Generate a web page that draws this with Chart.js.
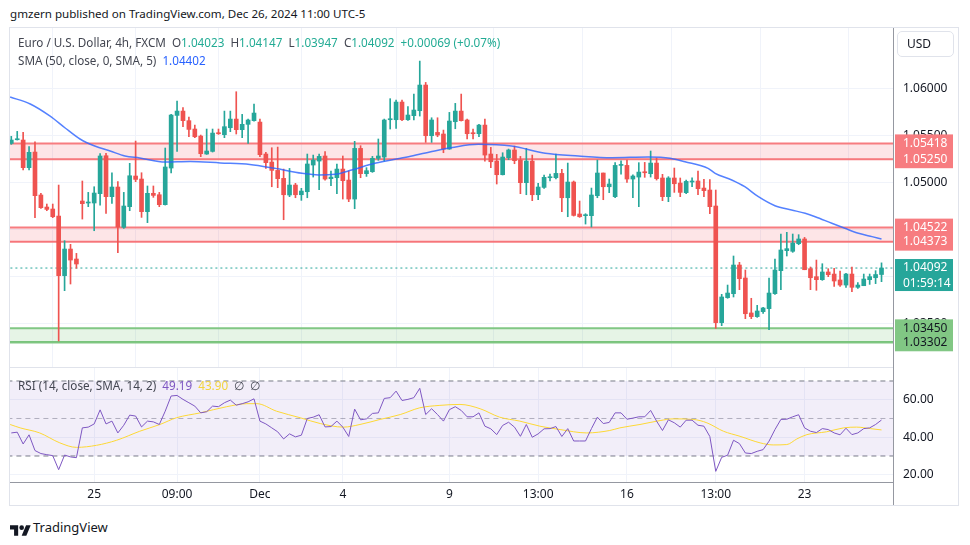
<!DOCTYPE html>
<html><head><meta charset="utf-8">
<script src="https://cdn.jsdelivr.net/npm/chart.js@4.4.1/dist/chart.umd.min.js"></script>
<style>
html,body{margin:0;padding:0;background:#fff;width:970px;height:545px;overflow:hidden;font-family:"Noto Sans",sans-serif;}
#frame{position:absolute;left:9px;top:27px;width:950px;height:479px;border:1px solid #e0e3eb;box-sizing:border-box;}
canvas{position:absolute;}
#c1{left:10px;top:28px;}
#c2{left:10px;top:368px;}
.t{position:absolute;white-space:nowrap;font-size:11.7px;color:#434651;line-height:16px;}
.vline{position:absolute;left:893px;top:28px;width:1px;height:477px;background:#9598a1;}
.sep{position:absolute;left:10px;top:367px;width:883px;height:1px;background:#e0e3eb;}
#usd{position:absolute;left:897px;top:31px;width:57px;height:26px;border:1px solid #e0e3eb;border-radius:5px;box-sizing:border-box;font-size:12px;color:#131722;line-height:24px;padding-left:9px;}
.g{color:#22ab94}
</style></head><body>
<div class="t" style="left:10px;top:6px;font-size:11.6px;color:#131722;">gmzern published on TradingView.com, Dec 26, 2024 11:00 UTC-5</div>
<div id="frame"></div>
<canvas id="c1" width="948" height="339"></canvas>
<canvas id="c2" width="948" height="137"></canvas>
<div class="sep"></div>
<div class="vline"></div>
<div id="usd">USD</div>
<div class="t" style="left:18px;top:34px;">Euro / U.S. Dollar, 4h, FXCM&nbsp; O<span class="g">1.04023</span>&nbsp; H<span class="g">1.04147</span>&nbsp; L<span class="g">1.03947</span>&nbsp; C<span class="g">1.04092</span>&nbsp; <span class="g">+0.00069 (+0.07%)</span></div>
<div class="t" style="left:18px;top:52px;">SMA (50, close, 0, SMA, 5)&nbsp; <span style="color:#2962ff">1.04402</span></div>
<div class="t" style="left:18px;top:377px;">RSI (14, close, SMA, 14, 2)&nbsp; <span style="color:#7e57c2">49.19</span>&nbsp; <span style="color:#f2d43d">43.90</span>&nbsp; ∅&nbsp; ∅</div>
<div style="position:absolute;left:10px;top:520px;">
<svg width="21" height="14" viewBox="0 0 36 24"><path d="M14 22H7V11H0V4h14v18z" fill="#131722"/><circle cx="20" cy="8" r="4" fill="#131722"/><path d="M28 22h-8l7.5-18h8L28 22z" fill="#131722"/></svg>
</div>
<div class="t" style="left:33px;top:519px;font-size:13px;color:#131722;">TradingView</div>
<script>
// ---------- data ----------
const OPEN = [1.05418,1.05457,1.05454,1.05160,1.05326,1.04869,1.04741,1.04720,1.04645,1.04011,1.04294,1.04188,
1.04805,1.04784,1.04784,1.04883,1.05287,1.04851,1.04954,1.04525,1.04745,1.05071,1.05039,1.04692,1.04887,1.04872,1.04766,1.05156,1.05716,1.05762,
1.05660,1.05571,1.05496,1.05305,1.05333,1.05532,1.05511,1.05585,1.05677,1.05564,1.05621,1.05660,1.05645,1.05305,1.05220,1.05131,1.05046,1.04869,
1.04975,1.04872,1.04904,1.05188,1.05230,1.05284,1.05043,1.05053,1.05145,1.05028,1.04826,1.05365,1.05096,1.05117,1.05259,1.05273,1.05670,1.05670,
1.05858,1.05670,1.05713,1.05766,1.06039,1.05500,1.05535,1.05518,1.05358,1.05649,1.05762,1.05667,1.05528,1.05521,1.05613,1.05305,1.05230,1.05085,
1.05266,1.05348,1.05241,1.05000,1.05230,1.04872,1.04950,1.05053,1.05053,1.05099,1.04840,1.05007,1.04667,1.04649,1.04649,1.04862,1.05103,1.04957,
1.04851,1.05184,1.05184,1.05039,1.05060,1.05113,1.05096,1.05209,1.05050,1.04851,1.05050,1.04996,1.04894,1.05007,1.05018,1.04943,1.04922,1.04752,
1.03511,1.03777,1.03819,1.04124,1.03986,1.03614,1.03575,1.03628,1.03660,1.03819,1.04064,1.04277,1.04270,1.04351,1.04401,1.04085,1.04000,1.03968,
1.04050,1.04028,1.03965,1.03911,1.04028,1.03887,1.03904,1.03968,1.03989,1.04023];
const HIGH = [1.05493,1.05546,1.05535,1.05383,1.05436,1.04887,1.04773,1.04773,1.04975,1.04383,1.04344,1.04248,
1.05018,1.04897,1.04957,1.05309,1.05312,1.05106,1.05011,1.04897,1.05206,1.05443,1.05106,1.04965,1.04965,1.04897,1.05369,1.05727,1.05869,1.05798,
1.05699,1.05613,1.05507,1.05571,1.05571,1.05571,1.05762,1.05762,1.05968,1.05727,1.05677,1.05837,1.05677,1.05323,1.05372,1.05379,1.05145,1.05152,
1.04993,1.04940,1.05305,1.05294,1.05305,1.05330,1.05124,1.05199,1.05284,1.05124,1.05440,1.05394,1.05160,1.05280,1.05465,1.05677,1.05894,1.05879,
1.05879,1.05809,1.05943,1.06294,1.06067,1.05691,1.05691,1.05560,1.05748,1.05844,1.05943,1.05677,1.05571,1.05620,1.05677,1.05376,1.05301,1.05319,
1.05358,1.05390,1.05280,1.05365,1.05294,1.04993,1.05082,1.05092,1.05305,1.05142,1.05209,1.05018,1.04805,1.04670,1.04943,1.05241,1.05103,1.05039,
1.05213,1.05234,1.05241,1.05085,1.05213,1.05216,1.05337,1.05262,1.05089,1.05064,1.05156,1.05050,1.05028,1.05053,1.05124,1.05035,1.05032,1.04922,
1.03812,1.03911,1.04220,1.04153,1.04071,1.03770,1.03695,1.03674,1.03986,1.04188,1.04454,1.04472,1.04454,1.04447,1.04418,1.04103,1.04177,1.04138,
1.04085,1.04089,1.04060,1.04035,1.04103,1.03936,1.04028,1.04028,1.04064,1.04147];
const LOW = [1.05408,1.05454,1.05135,1.05135,1.04628,1.04727,1.04702,1.04628,1.03316,1.03851,1.03922,1.04089,
1.04613,1.04745,1.04489,1.04762,1.04674,1.04780,1.04255,1.04514,1.04702,1.05011,1.04631,1.04575,1.04844,1.04745,1.04762,1.05103,1.05333,1.05596,
1.05489,1.05479,1.05277,1.05301,1.05326,1.05514,1.05479,1.05543,1.05518,1.05479,1.05418,1.05655,1.05277,1.05152,1.04957,1.04947,1.04606,1.04851,
1.04840,1.04812,1.04840,1.05060,1.04926,1.05028,1.04968,1.04883,1.04826,1.04798,1.04723,1.05053,1.05067,1.05110,1.05238,1.05230,1.05571,1.05578,
1.05660,1.05663,1.05667,1.05709,1.05429,1.05429,1.05489,1.05319,1.05355,1.05574,1.05656,1.05465,1.05465,1.05489,1.05230,1.05160,1.04986,1.05082,
1.05245,1.05202,1.04883,1.04872,1.04809,1.04819,1.04940,1.05018,1.05039,1.04692,1.04638,1.04645,1.04631,1.04560,1.04528,1.04840,1.04819,1.04894,
1.04840,1.05092,1.05004,1.04840,1.04745,1.05057,1.05060,1.05028,1.04809,1.04798,1.04897,1.04851,1.04883,1.04957,1.04872,1.04851,1.04670,1.03450,
1.03479,1.03770,1.03784,1.03862,1.03553,1.03553,1.03567,1.03610,1.03436,1.03812,1.03862,1.04220,1.04259,1.04340,1.04074,1.03862,1.03855,1.03961,
1.04000,1.03897,1.03897,1.03887,1.03840,1.03876,1.03904,1.03918,1.03926,1.03947];
const CLOSE = [1.05454,1.05465,1.05160,1.05323,1.04862,1.04734,1.04716,1.04638,1.04011,1.04294,1.04177,1.04135,
1.04777,1.04794,1.04890,1.05284,1.04851,1.04954,1.04528,1.04752,1.05074,1.05035,1.04692,1.04887,1.04865,1.04766,1.05167,1.05720,1.05762,1.05660,
1.05567,1.05489,1.05309,1.05337,1.05528,1.05521,1.05596,1.05677,1.05564,1.05621,1.05667,1.05741,1.05298,1.05213,1.05131,1.05043,1.04872,1.04975,
1.04872,1.04911,1.05199,1.05241,1.05280,1.05039,1.05060,1.05145,1.05021,1.04826,1.05365,1.05096,1.05128,1.05259,1.05284,1.05667,1.05677,1.05858,
1.05670,1.05720,1.05773,1.06039,1.05500,1.05667,1.05507,1.05358,1.05656,1.05762,1.05660,1.05521,1.05521,1.05613,1.05294,1.05223,1.05085,1.05273,
1.05348,1.05234,1.05000,1.05230,1.04872,1.04954,1.05057,1.05060,1.05099,1.04840,1.05007,1.04652,1.04638,1.04656,1.04869,1.05103,1.04957,1.04986,
1.05184,1.05191,1.05039,1.05071,1.05113,1.05106,1.05209,1.05043,1.04851,1.05050,1.04989,1.04897,1.05014,1.05018,1.04936,1.04915,1.04745,1.03511,
1.03784,1.03826,1.04124,1.03979,1.03606,1.03575,1.03635,1.03667,1.03826,1.04071,1.04284,1.04298,1.04358,1.04401,1.04074,1.03989,1.03968,1.04050,
1.04021,1.03954,1.03911,1.04028,1.03887,1.03911,1.03975,1.04000,1.04023,1.04092];

const SMA_X = [-0.2,3.2,6.5,9.1,11.6,14.1,16.7,19.2,21.7,26.0,30.2,35.3,40.3,44.5,49.1,51.9,54.7,57.5,61.4,67.1,70.7,74.5,78.9,84.5,90.2,95.8,101.4,107.6,111.3,113.8,117.7,118.9,121.7,123.9,126.2,129.0,131.8,134.1,135.8,138.6,140.8,143.1,145.4,147.0];
const SMA_Y = [1.05912,1.05837,1.05710,1.05582,1.05465,1.05390,1.05337,1.05284,1.05263,1.05220,1.05226,1.05210,1.05194,1.05153,1.05100,1.05082,1.05089,1.05135,1.05206,1.05277,1.05327,1.05375,1.05409,1.05390,1.05313,1.05284,1.05266,1.05273,1.05260,1.05223,1.05153,1.05100,1.05029,1.04957,1.04851,1.04755,1.04710,1.04674,1.04638,1.04568,1.04515,1.04462,1.04426,1.04402];

const RSI = [42.3,42.7,36.4,41.3,32.9,31.3,30.7,30.2,22.7,30.5,29.5,29.1,45.0,45.4,47.1,54.6,47.1,48.6,42.3,46.4,
51.8,51.3,45.5,48.6,48.2,46.8,53.9,62.0,62.3,60.2,58.4,56.6,53.0,53.6,56.6,56.3,58.4,59.8,57.1,57.9,
58.9,60.5,48.6,47.1,45.0,42.9,39.1,41.8,40.2,41.1,50.0,50.7,52.0,45.5,45.7,48.6,45.4,40.4,55.0,49.3,
49.8,52.7,53.0,60.7,61.1,64.6,59.6,60.2,61.1,66.1,52.1,55.2,52.1,48.6,54.7,56.3,54.3,50.9,50.9,53.0,
45.9,44.5,41.4,46.3,48.0,45.4,40.5,46.8,40.0,41.8,44.5,44.6,45.7,40.4,44.6,38.0,38.0,38.0,44.6,50.7,
47.3,47.9,53.0,53.0,49.6,50.2,50.9,50.9,54.3,48.6,43.6,49.3,47.7,45.4,49.1,49.1,46.4,45.9,40.4,21.8,
29.3,30.4,38.4,36.6,31.6,31.3,32.5,33.4,37.9,44.1,49.5,49.6,50.9,52.0,45.0,43.2,42.5,44.6,44.1,42.3,
41.3,44.8,41.4,42.3,44.6,45.0,46.8,49.19];
const RSI_MA_X = [-0.2,1.5,4.8,8.2,11.0,14.4,17.8,21.7,25.1,27.9,31.9,36.4,39.8,41.5,44.8,48.8,52.2,56.1,58.9,62.3,65.7,69.0,72.4,75.8,79.2,82.5,85.9,89.3,92.7,97.2,101.1,102.8,106.2,109.6,111.8,115.2,117.5,120.3,123.1,126.5,128.7,131.0,132.7,134.4,137.7,140.6,142.8,145.1,147.0];
const RSI_MA_Y = [46.8,45.0,42.3,37.0,34.6,35.7,38.4,43.2,46.8,50.4,53.0,56.3,57.9,57.9,53.9,50.4,47.3,45.4,46.8,49.5,52.1,55.7,57.0,57.5,55.2,50.7,48.6,45.9,44.1,42.3,43.6,45.0,46.8,48.9,49.8,49.5,47.7,43.2,40.5,37.0,35.9,36.1,39.1,41.4,42.9,45.0,45.4,44.6,43.9];

const TIME_TICK_IDX = [14,28,42,56,74,89,104,119,134];
const TIME_TICK_LABELS = ['25','09:00','Dec','4','9','13:00','16','13:00','23'];
const PRICE_TICKS = [1.035,1.040,1.045,1.050,1.055,1.060];
const RSI_TICKS = [20,40,60];
const RES_BANDS = [[1.05418,1.05250],[1.04522,1.04373]];
const SUP_BAND = [1.03450,1.03302];
const LAST_PRICE = 1.04092;
const COUNTDOWN = '01:59:14';
const RSI_LEVELS = [70,50,30];

// ---------- layout constants ----------
const X_MIN = -0.22, X_MAX = 148.94;
const Y_MIN = 1.03039, Y_MAX = 1.06646;
const R_MIN = 16.13, R_MAX = 76.93;
const FONT = '"Noto Sans", sans-serif';
const UP = '#26a69a', DOWN = '#ef5350';

Chart.defaults.font.family = FONT;
Chart.defaults.font.size = 12;
Chart.defaults.color = '#131722';

const idx = CLOSE.map((_, i) => i);
const colors = idx.map(i => CLOSE[i] >= OPEN[i] ? UP : DOWN);
const hline = v => [{x: X_MIN - 5, y: v}, {x: X_MAX + 5, y: v}];

const datasets1 = [];
RES_BANDS.forEach(b => {
  datasets1.push({type: 'line', data: hline(b[0]), borderColor: '#f77c80', borderWidth: 2, pointRadius: 0, fill: '+1', backgroundColor: 'rgba(242,54,69,0.13)', order: 10});
  datasets1.push({type: 'line', data: hline(b[1]), borderColor: '#f77c80', borderWidth: 2, pointRadius: 0, fill: false, order: 10});
});
datasets1.push({type: 'line', data: hline(SUP_BAND[0]), borderColor: '#81c784', borderWidth: 2, pointRadius: 0, fill: '+1', backgroundColor: 'rgba(76,175,80,0.14)', order: 10});
datasets1.push({type: 'line', data: hline(SUP_BAND[1]), borderColor: '#81c784', borderWidth: 2.5, pointRadius: 0, fill: false, order: 10});
datasets1.push({type: 'line', data: hline(LAST_PRICE), borderColor: UP, borderWidth: 1, borderDash: [2, 3], pointRadius: 0, fill: false, order: 9});
datasets1.push({type: 'bar', data: idx.map(i => ({x: i, y: [LOW[i], HIGH[i]]})), backgroundColor: colors, barThickness: 1, grouped: false, minBarLength: 1, order: 3});
datasets1.push({type: 'bar', data: idx.map(i => ({x: i, y: [OPEN[i], CLOSE[i]]})), backgroundColor: colors, barThickness: 4, grouped: false, minBarLength: 1, order: 2});
datasets1.push({type: 'line', data: SMA_X.map((x, i) => ({x, y: SMA_Y[i]})), borderColor: 'rgba(41,98,255,0.8)', borderWidth: 1.5, pointRadius: 0, cubicInterpolationMode: 'monotone', fill: false, order: 1});

const xScale = (showTicks) => ({
  type: 'linear', min: X_MIN, max: X_MAX, offset: false,
  afterBuildTicks: s => { s.ticks = TIME_TICK_IDX.map(v => ({value: v})); },
  ticks: {display: showTicks, autoSkip: false, maxRotation: 0, padding: 5, color: '#131722', font: {size: 12},
          callback: v => { const k = TIME_TICK_IDX.indexOf(v); return k >= 0 ? TIME_TICK_LABELS[k] : ''; }},
  grid: {color: '#f0f3fa', drawTicks: false},
  border: {display: showTicks, color: '#9598a1'},
  afterFit: s => { s.height = showTicks ? 23 : 0; }
});

const priceLabels = {
  id: 'priceLabels',
  afterDraw(chart) {
    const ctx = chart.ctx, ys = chart.scales.y, r = chart.chartArea.right;
    ctx.save();
    ctx.font = '12px ' + FONT;
    ctx.textBaseline = 'middle';
    ctx.fillStyle = '#131722';
    PRICE_TICKS.forEach(v => ctx.fillText(v.toFixed(5), r + 10, ys.getPixelForValue(v)));
    const box = (v, bg, fg, extra) => {
      const y = ys.getPixelForValue(v);
      ctx.fillStyle = bg;
      ctx.fillRect(r + 2, y - 9, 58, extra ? 32 : 18);
      ctx.fillStyle = fg;
      ctx.fillText(v.toFixed(5), r + 10, y);
      if (extra) ctx.fillText(extra, r + 10, y + 16);
    };
    RES_BANDS.forEach(b => b.forEach(v => box(v, '#f77c80', '#ffffff')));
    box(LAST_PRICE, UP, '#ffffff', COUNTDOWN);
    SUP_BAND.forEach(v => box(v, '#81c784', '#131722'));
    ctx.restore();
  }
};

new Chart(document.getElementById('c1'), {
  type: 'line',
  data: {datasets: datasets1},
  options: {
    responsive: false, animation: false, events: [],
    layout: {padding: 0},
    plugins: {legend: {display: false}, tooltip: {enabled: false}},
    scales: {
      x: xScale(false),
      y: {type: 'linear', position: 'right', min: Y_MIN, max: Y_MAX,
          afterBuildTicks: s => { s.ticks = PRICE_TICKS.map(v => ({value: v})); },
          ticks: {display: false}, grid: {color: '#f0f3fa', drawTicks: false}, border: {display: false},
          afterFit: s => { s.width = 65; }}
    }
  },
  plugins: [priceLabels]
});

const rsiLabels = {
  id: 'rsiLabels',
  afterDraw(chart) {
    const ctx = chart.ctx, ys = chart.scales.y, r = chart.chartArea.right;
    ctx.save();
    ctx.font = '12px ' + FONT;
    ctx.textBaseline = 'middle';
    ctx.fillStyle = '#131722';
    RSI_TICKS.forEach(v => ctx.fillText(v.toFixed(2), r + 10, ys.getPixelForValue(v)));
    ctx.restore();
  }
};

const datasets2 = [
  {type: 'line', data: hline(RSI_LEVELS[0]), borderColor: '#787b86', borderWidth: 1, borderDash: [5, 4], pointRadius: 0, fill: {value: RSI_LEVELS[2]}, backgroundColor: 'rgba(126,87,194,0.1)', order: 10},
  {type: 'line', data: hline(RSI_LEVELS[1]), borderColor: 'rgba(120,123,134,0.55)', borderWidth: 1, borderDash: [5, 4], pointRadius: 0, fill: false, order: 10},
  {type: 'line', data: hline(RSI_LEVELS[2]), borderColor: '#787b86', borderWidth: 1, borderDash: [5, 4], pointRadius: 0, fill: false, order: 10},
  {type: 'line', data: RSI_MA_X.map((x, i) => ({x, y: RSI_MA_Y[i]})), borderColor: '#fdd835', borderWidth: 1, pointRadius: 0, cubicInterpolationMode: 'monotone', fill: false, order: 2},
  {type: 'line', data: RSI.map((v, i) => ({x: i, y: v})), borderColor: '#7e57c2', borderWidth: 1, pointRadius: 0, fill: false, order: 1}
];

new Chart(document.getElementById('c2'), {
  type: 'line',
  data: {datasets: datasets2},
  options: {
    responsive: false, animation: false, events: [],
    layout: {padding: 0},
    plugins: {legend: {display: false}, tooltip: {enabled: false}},
    scales: {
      x: xScale(true),
      y: {type: 'linear', position: 'right', min: R_MIN, max: R_MAX,
          afterBuildTicks: s => { s.ticks = RSI_TICKS.map(v => ({value: v})); },
          ticks: {display: false}, grid: {color: '#f0f3fa', drawTicks: false}, border: {display: false},
          afterFit: s => { s.width = 65; }}
    }
  },
  plugins: [rsiLabels]
});
</script>
</body></html>
